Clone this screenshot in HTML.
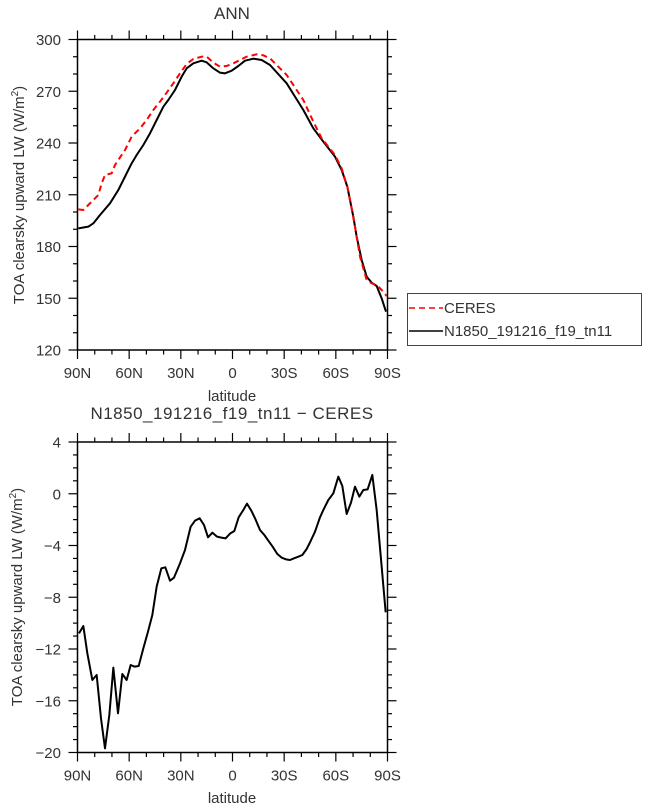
<!DOCTYPE html>
<html><head><meta charset="utf-8"><style>
body{margin:0;background:#fff;width:648px;height:808px;overflow:hidden}
svg{display:block}
text{font-family:"Liberation Sans","DejaVu Sans",sans-serif;fill:#333}
</style></head><body>
<svg id="s" width="648" height="808" xmlns="http://www.w3.org/2000/svg">
<text x="232" y="19" font-size="17" text-anchor="middle">ANN</text>
<text x="232" y="419" font-size="17" text-anchor="middle" letter-spacing="0.5">N1850_191216_f19_tn11 − CERES</text>
<text transform="translate(24,195) rotate(-90)" font-size="15" text-anchor="middle">TOA clearsky upward LW (W/m<tspan dy="-6" font-size="10">2</tspan><tspan dy="6">)</tspan></text>
<text transform="translate(22,597) rotate(-90)" font-size="15" text-anchor="middle">TOA clearsky upward LW (W/m<tspan dy="-6" font-size="10">2</tspan><tspan dy="6">)</tspan></text>
<text x="232" y="401" font-size="15" text-anchor="middle">latitude</text>
<text x="232" y="803" font-size="15" text-anchor="middle">latitude</text>
<g id="ax"></g>
<g transform="scale(0.33333)" fill="none" stroke-width="2" stroke-linejoin="round">
<polyline vector-effect="non-scaling-stroke" stroke="#000" points="235,685 265,680 280,670 300,645 330,610 355,570 375,530 395,490 410,465 430,435 450,400 470,360 490,320 505,300 525,270 545,230 560,205 580,190 605,182 620,187 640,205 660,218 675,220 695,212 715,198 735,182 760,176 785,180 810,195 860,250 910,330 940,385 970,425 1005,470 1025,510 1042,560 1050,600 1060,650 1070,710 1085,780 1100,830 1115,848 1130,858 1145,895 1158,935"/>
<polyline vector-effect="non-scaling-stroke" stroke="#f00" stroke-dasharray="6,4" points="235,628 250,630 265,615 285,595 295,585 305,550 315,525 335,520 345,495 355,480 375,450 395,410 420,385 440,360 460,330 480,305 500,278 520,250 540,220 560,192 580,177 605,170 620,170 640,188 660,200 680,198 700,190 720,180 740,170 770,163 790,166 810,175 860,225 910,300 940,365 965,415 1005,465 1025,505 1042,560 1052,610 1065,680 1080,770 1100,840 1115,850 1130,855 1145,870 1160,888"/>
<polyline vector-effect="non-scaling-stroke" stroke="#000" transform="translate(0,1200)" points="237,700 250,678 262,760 277,840 290,825 303,955 315,1045 328,945 340,803 354,940 367,822 380,840 392,795 404,800 416,798 430,745 444,695 457,645 470,560 484,505 496,502 510,542 522,533 540,490 555,450 572,380 585,362 599,355 612,375 624,412 637,398 651,410 664,413 677,415 691,400 703,393 716,352 730,330 741,311 754,332 766,357 780,390 793,405 805,422 818,440 832,462 845,473 858,478 870,480 882,475 895,470 907,465 920,447 932,423 945,395 960,352 970,330 985,300 1000,280 1015,230 1027,258 1040,342 1053,308 1065,260 1078,290 1090,270 1103,268 1117,225 1130,330 1145,500 1157,637"/>
</g>
<rect x="407.5" y="293.5" width="234" height="52" fill="none" stroke="#444" stroke-width="1"/>
<line x1="409" y1="308" x2="443" y2="308" stroke="#f00" stroke-width="1.5" stroke-dasharray="6,4"/>
<line x1="409" y1="331" x2="443" y2="331" stroke="#000" stroke-width="1.5"/>
<text x="444" y="313" font-size="15">CERES</text>
<text x="444" y="336" font-size="15">N1850_191216_f19_tn11</text>
</svg>
<script>
var g=document.getElementById('ax'),ns='http://www.w3.org/2000/svg';
function el(t,a,txt){var e=document.createElementNS(ns,t);for(var k in a)e.setAttribute(k,a[k]);if(txt)e.textContent=txt;g.appendChild(e);}
function axes(top,bot,ymin,ymax,ymaj,ymin2){
 var L=77.5,R=387.5;
 el('rect',{x:L,y:top,width:R-L,height:bot-top,fill:'none',stroke:'#000','stroke-width':1.5});
 var xl=['90N','60N','30N','0','30S','60S','90S'];
 for(var d=0;d<=180;d+=10){var x=L+d*(R-L)/180,m=d%30==0,len=m?9:4.5;
  el('line',{x1:x,y1:bot,x2:x,y2:bot+len,stroke:'#000','stroke-width':1.2});
  el('line',{x1:x,y1:top,x2:x,y2:top-len,stroke:'#000','stroke-width':1.2});
  if(m)el('text',{x:x,y:bot+28,'font-size':15,'text-anchor':'middle'},xl[d/30]);}
 for(var v=ymin;v<=ymax+1e-6;v+=ymin2){var y=bot-(v-ymin)*(bot-top)/(ymax-ymin),m=Math.abs(((v-ymin)/ymaj)-Math.round((v-ymin)/ymaj))<1e-6,len=m?9:4.5;
  el('line',{x1:L,y1:y,x2:L-len,y2:y,stroke:'#000','stroke-width':1.2});
  el('line',{x1:R,y1:y,x2:R+len,y2:y,stroke:'#000','stroke-width':1.2});
  if(m)el('text',{x:61,y:y+5.5,'font-size':15,'text-anchor':'end'},String(Math.round(v)).replace('-','\u2212'));}
}
axes(39.5,350,120,300,30,10);
axes(442,752.5,-20,4,4,1);
</script>
</body></html>
